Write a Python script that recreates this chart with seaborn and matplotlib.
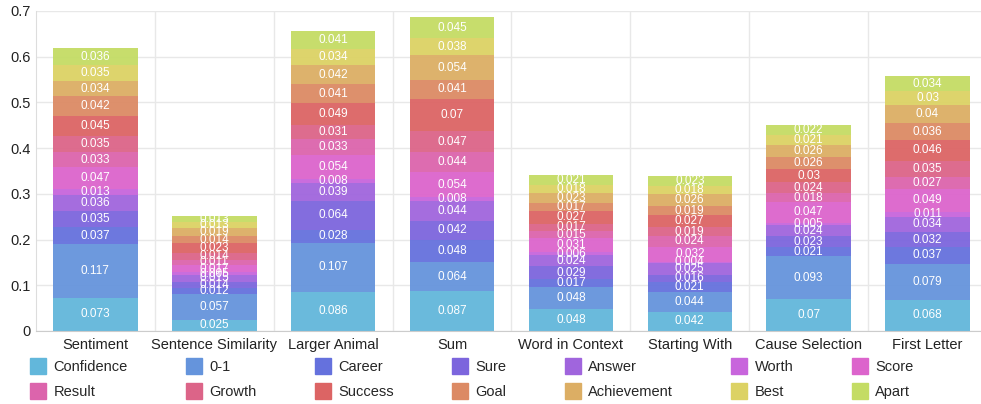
import numpy as np
import pandas as pd
import seaborn as sns
import matplotlib
matplotlib.use("Agg")
import matplotlib.pyplot as plt
from matplotlib.lines import Line2D

tasks = ["Sentiment", "Sentence Similarity", "Larger Animal", "Sum",
         "Word in Context", "Starting With", "Cause Selection", "First Letter"]

series = ["Confidence", "0-1", "Career", "Sure", "Answer", "Worth", "Score",
          "Result", "Growth", "Success", "Goal", "Achievement", "Best", "Apart"]

# one list per task, values bottom -> top in the order of `series`
sentiment = [0.073, 0.117, 0.037, 0.035, 0.036, 0.013, 0.047, 0.033, 0.035, 0.045, 0.042, 0.034, 0.035, 0.036]
sentence_similarity = [0.025, 0.057, 0.012, 0.014, 0.015, 0.005, 0.017, 0.011, 0.014, 0.023, 0.014, 0.019, 0.013, 0.013]
larger_animal = [0.086, 0.107, 0.028, 0.064, 0.039, 0.008, 0.054, 0.033, 0.031, 0.049, 0.041, 0.042, 0.034, 0.041]
sum_task = [0.087, 0.064, 0.048, 0.042, 0.044, 0.008, 0.054, 0.044, 0.047, 0.07, 0.041, 0.054, 0.038, 0.045]
word_in_context = [0.048, 0.048, 0.017, 0.029, 0.024, 0.006, 0.031, 0.015, 0.017, 0.027, 0.017, 0.023, 0.018, 0.021]
starting_with = [0.042, 0.044, 0.021, 0.016, 0.025, 0.004, 0.032, 0.024, 0.019, 0.027, 0.019, 0.026, 0.018, 0.023]
cause_selection = [0.07, 0.093, 0.021, 0.023, 0.024, 0.005, 0.047, 0.018, 0.024, 0.03, 0.026, 0.026, 0.021, 0.022]
first_letter = [0.068, 0.079, 0.037, 0.032, 0.034, 0.011, 0.049, 0.027, 0.035, 0.046, 0.036, 0.04, 0.03, 0.034]

colors = ["#62b7db", "#6594dc", "#6571dd", "#7c65dd", "#a065dd", "#c865dc", "#dc64cc",
          "#dc64ac", "#dc6488", "#dc6464", "#dc8a64", "#dcae64", "#dcd264", "#c4dc64"]

values = np.array([sentiment, sentence_similarity, larger_animal, sum_task,
                   word_in_context, starting_with, cause_selection, first_letter])
df = pd.DataFrame(values, index=tasks, columns=series)

sns.set_style("white")
plt.rcParams["font.family"] = ["Liberation Sans", "DejaVu Sans"]

fig = plt.figure(figsize=(9.81, 4.04), dpi=100)
ax = fig.add_axes([36 / 981, 73 / 404, 945 / 981, 320 / 404])

bottom = np.zeros(len(tasks))
for name, c in zip(series, colors):
    sns.barplot(x=tasks, y=df[name].values, bottom=bottom, color=c, width=0.71,
                errorbar=None, saturation=1, alpha=0.95, linewidth=0, ax=ax)
    for i, v in enumerate(df[name].values):
        ax.text(i, bottom[i] + v / 2, f"{v:g}", ha="center", va="center",
                color="white", fontsize=8.5)
    bottom = bottom + df[name].values

ax.set_xlim(-0.5, 7.45)
ax.set_ylim(0, 0.7)
ax.set_yticks(np.arange(0, 0.71, 0.1))
ax.set_yticklabels(["0"] + [f"{t:.1f}" for t in np.arange(0.1, 0.71, 0.1)])
ax.set_axisbelow(True)
ax.yaxis.grid(True, color="#e8e8e8", linewidth=1)
for b in np.arange(0.5, 7.5, 1):
    ax.axvline(b, color="#e8e8e8", linewidth=1, zorder=0)
for s in ["top", "right"]:
    ax.spines[s].set_visible(False)
ax.spines["left"].set_color("#dddddd")
ax.spines["bottom"].set_color("#cccccc")
ax.tick_params(axis="both", length=0, labelsize=10.5, colors="#222222", pad=4)
ax.tick_params(axis="x", pad=5)

# legend laid out row by row (matplotlib fills columns first)
handles = [Line2D([], [], marker="s", linestyle="", markersize=11.5,
                  markerfacecolor=c, markeredgecolor=c) for c in colors]
order = []
for col in range(7):
    order += [col, col + 7]
fig.legend([handles[k] for k in order], [series[k] for k in order], ncol=7,
           loc="upper left", bbox_to_anchor=(30 / 981, 1 - 360 / 404), frameon=False,
           fontsize=10.5, handlelength=1.1, handletextpad=0.5, columnspacing=4.0,
           labelspacing=0.75, borderaxespad=0, borderpad=0)

fig.savefig("out.png", dpi=100)
